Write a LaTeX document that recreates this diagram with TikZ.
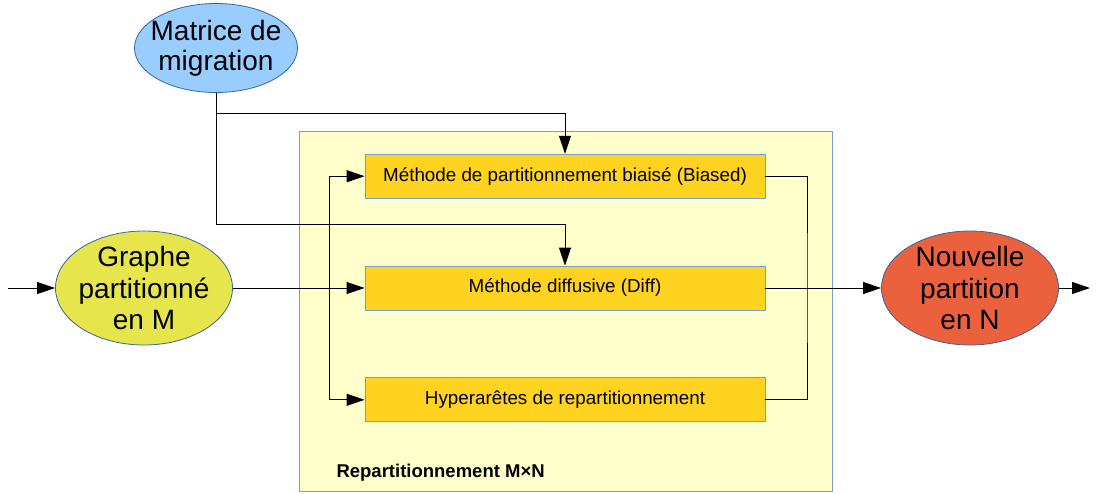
\documentclass[tikz,border=0pt]{standalone}
\usepackage{fontspec}
\setmainfont{Liberation Sans}
\usetikzlibrary{arrows.meta,positioning,shapes.geometric}
\definecolor{framefill}{RGB}{255,255,204}
\definecolor{frameblue}{RGB}{114,159,207}
\definecolor{boxorange}{RGB}{255,211,32}
\definecolor{edgeblue}{RGB}{52,101,164}
\definecolor{skyblue}{RGB}{153,204,255}
\definecolor{limeyellow}{RGB}{230,230,76}
\definecolor{tomato}{RGB}{235,97,61}
\tikzset{
  oval/.style={
    ellipse,
    draw=edgeblue,
    line width=0.8pt,
    align=center,
    inner xsep=-20pt,
    inner ysep=-4pt,
    minimum width=177pt,
    minimum height=114pt,
    font=\fontsize{28}{31.5}\selectfont
  },
  methode/.style={
    rectangle,
    draw=frameblue,
    fill=boxorange,
    line width=0.8pt,
    align=center,
    inner sep=0pt,
    minimum width=400pt,
    minimum height=44pt,
    font=\fontsize{18.8}{22}\selectfont
  },
  arrow/.style={-{Triangle[length=18pt,width=12pt]}, line width=1pt}
}

\begin{document}
\begin{tikzpicture}[x=1pt, y=-1pt, node distance=67pt]
    \useasboundingbox (0,0) rectangle (1119,493);
    \node[rectangle, draw=frameblue, fill=framefill, line width=1pt,
      minimum width=533pt, minimum height=360pt] (cadre) at (565.5,311) {};
    \node[anchor=base west, font=\fontsize{18.5}{22}\selectfont\bfseries] (titre) at (333,477) {Repartitionnement M×N};

    \node[methode] (diff) at (565,288) {Méthode diffusive (Diff)};
    \node[methode, above=of diff] (biased) {Méthode de partitionnement biaisé (Biased)};
    \node[methode, below=of diff] (hyper) {Hyperarêtes de repartitionnement};

    \node[oval, fill=limeyellow] (graphe) at (144,288) {Graphe\\partitionné\\en M};
    \node[oval, fill=tomato] (nouvelle) at (970,288) {Nouvelle\\partition\\en N};
    \node[oval, fill=skyblue, minimum width=163pt, minimum height=89pt,
      font=\fontsize{28}{30}\selectfont] (matrice) at (216,48) {Matrice de\\migration};

    \coordinate (entree) at (8,288);
    \coordinate (sortie) at (1090,288);
    \coordinate (busg) at (329,288);
    \coordinate (busd) at (807,288);
    \coordinate (tap) at (216,113);
    \coordinate (tapbas) at (216,224);

    \draw[arrow] (entree) -- (graphe);
    \draw[arrow] (graphe) -- (diff);
    \draw[arrow] (busg |- hyper) -- (hyper);
    \draw[arrow] (busg |- hyper) -- (busg |- biased) -- (biased);
    \draw[line width=1pt] (biased) -| (busd) |- (hyper);
    \draw[arrow] (diff) -- (nouvelle);
    \draw[arrow] (nouvelle) -- (sortie);
    \draw[arrow] (matrice) -- (tap) -| (biased);
    \draw[arrow] (tap) -- (tapbas) -| (diff);
\end{tikzpicture}
\end{document}
